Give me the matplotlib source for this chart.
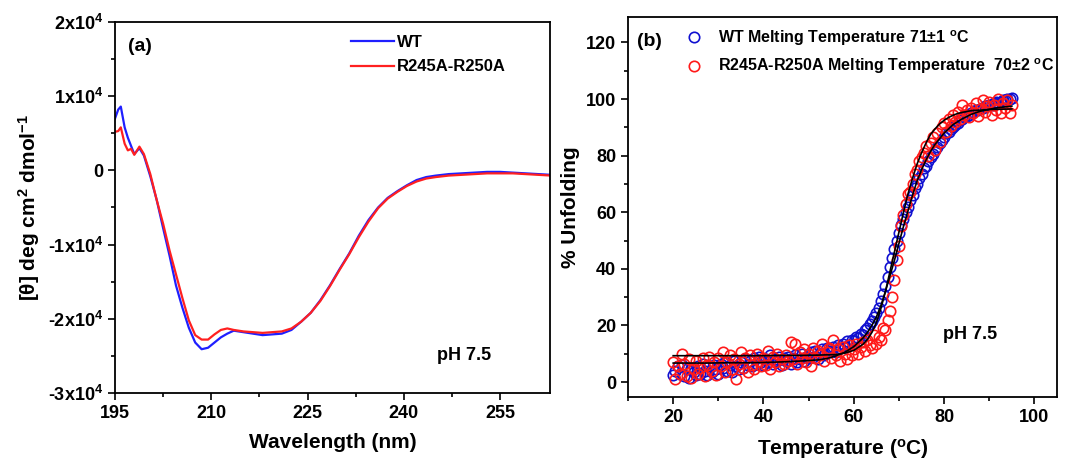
import matplotlib
matplotlib.use("Agg")
import matplotlib.pyplot as plt
import numpy as np
from matplotlib.ticker import MultipleLocator, FixedLocator

plt.rcParams['font.family'] = ['Liberation Sans', 'DejaVu Sans']
plt.rcParams['font.weight'] = 'bold'
plt.rcParams['mathtext.default'] = 'bf'
plt.rcParams['mathtext.fontset'] = 'custom'
plt.rcParams['mathtext.bf'] = 'Liberation Sans:bold'
plt.rcParams['mathtext.rm'] = 'Liberation Sans:bold'

# ---- (a) CD spectra, units of 1e4 deg cm2 dmol-1 ----
wavelength = [195.0, 195.5, 195.9, 196.5, 197.0, 197.5, 198.0, 198.8, 199.5, 200.5,
              201.5, 202.5, 203.5, 204.5, 205.5, 206.5, 207.5, 208.5, 209.5, 210.5,
              211.5, 212.5, 213.5, 215.0, 216.5, 218.0, 219.5, 221.0, 222.5, 224.0,
              225.5, 227.0, 228.5, 230.0, 231.5, 233.0, 234.5, 236.0, 237.5, 239.0,
              240.5, 242.0, 243.5, 245.0, 247.0, 249.0, 251.0, 253.0, 255.0, 257.0,
              259.0, 261.0, 263.0]
cd_wt = [0.70, 0.82, 0.86, 0.58, 0.44, 0.33, 0.22, 0.30, 0.20, -0.08,
         -0.40, -0.78, -1.15, -1.55, -1.85, -2.12, -2.32, -2.41, -2.39, -2.32,
         -2.25, -2.20, -2.16, -2.18, -2.20, -2.22, -2.21, -2.20, -2.15, -2.04,
         -1.92, -1.75, -1.55, -1.33, -1.12, -0.88, -0.67, -0.50, -0.37, -0.28,
         -0.20, -0.13, -0.09, -0.07, -0.05, -0.04, -0.03, -0.02, -0.02, -0.03,
         -0.04, -0.05, -0.06]
cd_mut = [0.52, 0.53, 0.58, 0.36, 0.27, 0.29, 0.21, 0.32, 0.22, -0.05,
          -0.40, -0.72, -1.08, -1.40, -1.72, -2.02, -2.22, -2.28, -2.28, -2.21,
          -2.15, -2.13, -2.15, -2.17, -2.18, -2.19, -2.18, -2.17, -2.13, -2.04,
          -1.92, -1.76, -1.56, -1.34, -1.13, -0.90, -0.69, -0.51, -0.38, -0.29,
          -0.21, -0.15, -0.11, -0.09, -0.07, -0.06, -0.05, -0.04, -0.04, -0.04,
          -0.05, -0.06, -0.07]

# ---- (b) thermal melt, sampled every 0.5 C from 20 to 95 ----
temp = np.arange(20, 95.01, 0.5)
melt_wt = [2.5, 4.0, 5.5, 3.0, 6.0, 2.0, 4.5, 1.5, 5.0, 3.5,
           2.5, 5.5, 3.0, 6.5, 4.0, 2.5, 5.5, 3.5, 6.0, 4.5,
           3.0, 6.5, 5.0, 7.0, 4.0, 6.0, 3.5, 7.5, 5.5, 4.5,
           7.0, 5.0, 8.0, 6.0, 7.5, 5.5, 8.5, 6.5, 9.0, 7.0,
           6.0, 8.0, 7.0, 9.5, 6.5, 8.0, 7.5, 9.0, 6.0, 8.5,
           7.5, 9.0, 6.5, 8.5, 9.5, 7.0, 8.0, 10.0, 7.5, 9.0,
           8.5, 10.5, 9.0, 11.0, 8.0, 10.0, 11.5, 9.5, 12.0, 10.5,
           11.0, 12.5, 10.5, 13.0, 12.0, 13.5, 12.5, 14.5, 13.0, 15.0,
           14.5, 16.0, 15.5, 17.0, 16.5, 18.5, 19.0, 20.5, 21.5, 23.0,
           24.5, 26.0, 28.5, 31.0, 34.0, 37.0, 40.5, 44.0, 47.0, 50.0,
           52.5, 55.5, 57.5, 60.0, 62.0, 64.5, 66.0, 68.5, 70.0, 72.0,
           73.5, 75.5, 76.5, 78.0, 79.5, 80.5, 82.0, 83.0, 84.5, 85.5,
           86.5, 88.0, 88.5, 89.5, 90.0, 91.0, 91.5, 92.5, 93.0, 93.5,
           94.0, 94.5, 95.0, 95.5, 96.0, 96.0, 96.5, 97.0, 97.5, 97.5,
           98.0, 98.0, 98.5, 99.0, 98.5, 99.0, 99.5, 99.5, 100.0, 100.0,
           100.5]
melt_mut = [7.0, 1.0, 5.5, 3.0, 10.0, 6.5, 2.0, 8.0, 1.5, 4.5,
            7.5, 3.0, 5.0, 8.5, 2.0, 6.0, 9.0, 4.0, 7.0, 2.5,
            8.5, 5.5, 10.5, 3.5, 7.0, 9.5, 4.5, 8.0, 1.0, 6.5,
            10.5, 5.0, 8.5, 3.5, 9.5, 6.0, 4.5, 10.0, 7.5, 5.5,
            8.5, 6.0, 11.0, 4.5, 9.0, 7.0, 10.0, 5.5, 8.0, 6.5,
            9.5, 7.5, 14.0, 8.0, 13.5, 6.5, 10.5, 8.5, 11.5, 7.0,
            10.0, 5.5, 12.0, 8.5, 11.0, 9.5, 13.5, 7.5, 10.5, 12.0,
            8.5, 15.0, 9.5, 11.5, 7.5, 12.5, 10.0, 8.0, 13.0, 9.5,
            11.5, 13.5, 10.0, 12.5, 14.0, 11.0, 15.0, 13.0, 12.0, 16.5,
            13.5, 16.0, 15.0, 19.0, 18.5, 22.0, 25.0, 30.0, 36.0, 43.0,
            48.0, 55.0, 59.0, 63.0, 66.5, 67.0, 70.0, 73.5, 75.0, 78.0,
            79.5, 81.0, 83.5, 80.0, 84.5, 86.5, 82.0, 88.0, 85.0, 90.0,
            91.5, 88.5, 93.0, 90.5, 94.5, 92.0, 95.5, 93.0, 98.0, 94.5,
            96.0, 93.5, 97.0, 95.0, 98.5, 94.0, 96.5, 99.5, 95.5, 97.5,
            99.0, 94.5, 98.0, 96.0, 100.0, 95.0, 98.5, 97.0, 99.5, 95.0,
            98.0]

# fitted curves
fit_temp = [20, 24, 28, 32, 36, 40, 44, 48, 52, 54, 56, 58, 60, 62, 63, 64, 65, 66, 67, 68,
            69, 70, 71, 72, 73, 74, 75, 76, 77, 78, 79, 80, 81, 82, 83, 84, 86, 88, 90, 92, 95]
fit_wt = [6.7, 6.7, 6.7, 6.8, 6.8, 6.9, 7.1, 7.4, 7.8, 8.3, 9.2, 10.5, 12.5, 15.5, 17.5, 20.0,
          23.0, 27.0, 32.0, 37.5, 43.0, 49.0, 55.0, 60.5, 66.0, 71.0, 75.0, 78.5, 81.5, 84.0,
          86.0, 88.0, 89.5, 91.0, 92.0, 93.0, 94.6, 95.7, 96.4, 97.0, 97.5]
fit_mut = [9.3, 9.3, 9.3, 9.3, 9.3, 9.3, 9.4, 9.4, 9.5, 9.6, 9.7, 10.2, 11.2, 13.3, 15.0, 17.5,
           21.0, 26.0, 32.0, 39.0, 46.0, 53.0, 60.0, 66.5, 72.0, 77.0, 81.0, 84.5, 87.5, 89.5,
           91.2, 92.5, 93.5, 94.3, 94.9, 95.3, 95.9, 96.1, 96.3, 96.4, 96.5]

fig = plt.figure(figsize=(10.73, 4.61), dpi=100)
ax1 = fig.add_axes([0.1072, 0.1475, 0.4054, 0.8048])
ax2 = fig.add_axes([0.5853, 0.1388, 0.3998, 0.8243])

for ax in (ax1, ax2):
    for s in ax.spines.values():
        s.set_linewidth(1.3)
    ax.tick_params(which='both', direction='out', width=1.2, labelsize=13, top=False, right=False)
    ax.tick_params(which='major', length=5)
    ax.tick_params(which='minor', length=3)

# panel a
ax1.plot(wavelength, cd_wt, color='#1f1fff', lw=1.6, label='WT')
ax1.plot(wavelength, cd_mut, color='#ff2020', lw=1.6, label='R245A-R250A')
ax1.set_xlim(195, 262.8)
ax1.set_ylim(-3, 2)
ax1.xaxis.set_major_locator(FixedLocator([195, 210, 225, 240, 255]))
ax1.xaxis.set_minor_locator(FixedLocator([202.5, 217.5, 232.5, 247.5]))
ax1.yaxis.set_minor_locator(MultipleLocator(0.5))
ax1.set_yticks([-3, -2, -1, 0, 1, 2])
ax1.set_yticklabels(['-3x10$^{4}$', '-2x10$^{4}$', '-1x10$^{4}$', '0', '1x10$^{4}$', '2x10$^{4}$'])
ax1.set_xlabel('Wavelength (nm)', fontsize=15, fontweight='bold', labelpad=8)
ax1.set_ylabel(r'[$\theta$] deg cm$^{2}$ dmol$^{-1}$', fontsize=15, fontweight='bold')
ax1.legend(loc='upper right', bbox_to_anchor=(0.93, 1.0), frameon=False, fontsize=12,
           handlelength=2.6, handletextpad=0.2, labelspacing=0.55, borderaxespad=0.4)
ax1.text(0.03, 0.935, '(a)', transform=ax1.transAxes, fontsize=14, fontweight='bold', va='center')
ax1.text(0.74, 0.10, 'pH 7.5', transform=ax1.transAxes, fontsize=13, fontweight='bold', va='center')

# panel b
ax2.plot(temp, melt_wt, 'o', ms=7.5, mfc='none', mec='#1010d0', mew=1.2,
         label='WT Melting Temperature 71$\\pm$1 $^{o}$C')
ax2.plot(temp, melt_mut, 'o', ms=7.5, mfc='none', mec='#ff1a1a', mew=1.2,
         label='R245A-R250A Melting Temperature  70$\\pm$2 $^{o}$C')
ax2.plot(fit_temp, fit_wt, color='black', lw=1.2)
ax2.plot(fit_temp, fit_mut, color='black', lw=1.2)
ax2.set_xlim(10, 105)
ax2.set_ylim(-5.3, 129)
ax2.xaxis.set_minor_locator(MultipleLocator(10))
ax2.yaxis.set_minor_locator(MultipleLocator(10))
ax2.set_xticks([20, 40, 60, 80, 100])
ax2.set_yticks([0, 20, 40, 60, 80, 100, 120])
ax2.set_xlabel('Temperature ($^{o}$C)', fontsize=15, fontweight='bold', labelpad=8)
ax2.set_ylabel('% Unfolding', fontsize=15, fontweight='bold')
ax2.legend(loc='upper left', bbox_to_anchor=(0.11, 1.0), frameon=False, fontsize=11.5,
           handlelength=1.0, handletextpad=1.0, labelspacing=0.55, borderaxespad=0.3)
ax2.text(0.02, 0.935, '(b)', transform=ax2.transAxes, fontsize=14, fontweight='bold', va='center')
ax2.text(0.735, 0.165, 'pH 7.5', transform=ax2.transAxes, fontsize=13, fontweight='bold', va='center')

fig.savefig('out.png', dpi=100)
